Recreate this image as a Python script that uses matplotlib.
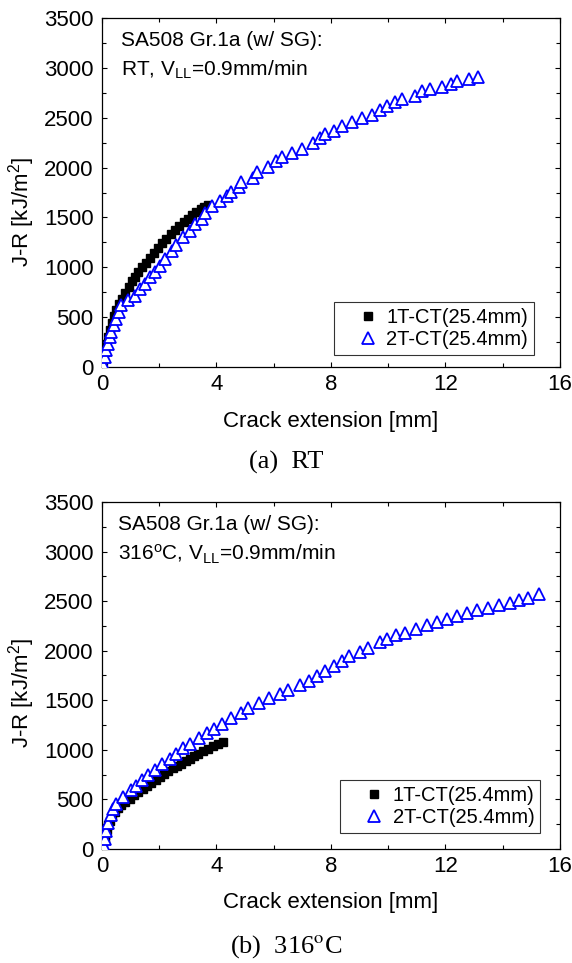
#Curvas J-R de SA508 Gr.1a (w/ SG): 1T-CT vs 2T-CT, a RT y a 316C
import numpy as np
import matplotlib
matplotlib.use("Agg")
import matplotlib.pyplot as plt
from matplotlib.ticker import MultipleLocator

plt.rcParams['font.family'] = ['Liberation Sans', 'DejaVu Sans']
plt.rcParams['mathtext.fontset'] = 'custom'
plt.rcParams['mathtext.rm'] = 'Liberation Sans'
plt.rcParams['mathtext.it'] = 'Liberation Sans:italic'

#(a) RT
rt_1t_da = [0.05, 0.10, 0.15, 0.20, 0.27, 0.34, 0.42, 0.50, 0.60, 0.70, 0.82, 0.93,
            1.05, 1.15, 1.27, 1.40, 1.53, 1.67, 1.80, 1.95, 2.10, 2.25, 2.40, 2.55,
            2.70, 2.85, 3.00, 3.15, 3.30, 3.45, 3.58, 3.71]
rt_1t_j = [60, 150, 230, 300, 370, 440, 510, 570, 630, 680, 740, 800,
           860, 905, 950, 1000, 1045, 1095, 1140, 1190, 1240, 1285, 1330, 1370,
           1410, 1450, 1485, 1520, 1550, 1580, 1605, 1625]
rt_2t_da = [0.04, 0.09, 0.15, 0.21, 0.27, 0.33, 0.41, 0.50, 0.59, 0.68, 0.91, 1.14,
            1.32, 1.49, 1.67, 1.84, 2.02, 2.19, 2.43, 2.60, 2.83, 3.07, 3.24, 3.48,
            3.59, 3.83, 4.12, 4.35, 4.52, 4.79, 4.85, 5.27, 5.40, 5.81, 6.07, 6.30,
            6.64, 6.97, 7.38, 7.60, 7.79, 8.11, 8.37, 8.72, 9.07, 9.45, 9.71, 9.96,
            10.22, 10.47, 10.92, 11.17, 11.47, 11.88, 12.20, 12.39, 12.83, 13.15]
rt_2t_j = [33, 100, 167, 233, 300, 350, 417, 483, 550, 617, 667, 717,
           783, 833, 900, 950, 1017, 1080, 1160, 1225, 1300, 1367, 1430, 1483,
           1545, 1610, 1660, 1710, 1760, 1804, 1854, 1894, 1954, 2004, 2064, 2104,
           2144, 2188, 2244, 2298, 2338, 2371, 2415, 2455, 2498, 2528, 2578, 2622,
           2662, 2689, 2722, 2766, 2789, 2812, 2839, 2872, 2889, 2912]

#(b) 316C
ht_1t_da = [0.05, 0.09, 0.12, 0.16, 0.21, 0.27, 0.35, 0.44, 0.55, 0.68, 0.82, 0.97,
            1.12, 1.27, 1.42, 1.57, 1.72, 1.87, 2.02, 2.17, 2.32, 2.47, 2.62, 2.77,
            2.92, 3.07, 3.22, 3.37, 3.53, 3.70, 3.88, 4.05, 4.22]
ht_1t_j = [40, 90, 140, 190, 240, 280, 330, 370, 410, 440, 470, 505,
           545, 575, 610, 640, 665, 695, 730, 760, 790, 815, 840, 860,
           885, 910, 935, 960, 985, 1010, 1035, 1060, 1080]
ht_2t_da = [0.06, 0.10, 0.15, 0.22, 0.30, 0.38, 0.50, 0.74, 1.00, 1.20, 1.40, 1.62,
            1.85, 2.10, 2.36, 2.58, 2.83, 3.07, 3.38, 3.68, 3.93, 4.21, 4.51, 4.85,
            5.11, 5.49, 5.85, 6.23, 6.51, 6.90, 7.22, 7.51, 7.79, 8.11, 8.40, 8.62,
            9.00, 9.30, 9.71, 9.94, 10.28, 10.57, 10.96, 11.37, 11.69, 12.07, 12.39, 12.75,
            13.09, 13.47, 13.86, 14.24, 14.56, 14.88, 15.26]
ht_2t_j = [34, 100, 180, 260, 340, 400, 450, 520, 590, 640, 700, 750,
           800, 860, 910, 960, 1015, 1060, 1115, 1170, 1215, 1265, 1317, 1367,
           1418, 1471, 1518, 1562, 1606, 1653, 1696, 1747, 1797, 1847, 1898, 1942,
           1989, 2032, 2083, 2123, 2157, 2183, 2217, 2261, 2291, 2318, 2351, 2385,
           2412, 2435, 2459, 2486, 2513, 2536, 2570]

etiquetas = ['1T-CT(25.4mm)', '2T-CT(25.4mm)']
notas = ['SA508 Gr.1a (w/ SG):\nRT, V$_{\\rm LL}$=0.9mm/min',
         'SA508 Gr.1a (w/ SG):\n316$^{\\rm o}$C, V$_{\\rm LL}$=0.9mm/min']
titulos = ['(a)  RT', '(b)  316$^{\\rm o}$C']

fig = plt.figure(figsize=(5.72, 9.63), dpi=100)
ax_a = fig.add_axes([0.1783, 0.6189, 0.8007, 0.3624])
ax_b = fig.add_axes([0.1783, 0.1184, 0.8007, 0.3603])

datos = [(ax_a, rt_1t_da, rt_1t_j, rt_2t_da, rt_2t_j),
         (ax_b, ht_1t_da, ht_1t_j, ht_2t_da, ht_2t_j)]
# posiciones finas por panel (texto, legenda, etiqueta y)
nota_x = [0.041, 0.036]
leg_anchor = [(0.943, 0.034), (0.957, 0.046)]
ylab_y = [0.444, 0.449]

for i, (ax, x1, y1, x2, y2) in enumerate(datos):
    ax.plot(x1, y1, 's', color='black', markersize=6.3, label=etiquetas[0], zorder=2)
    ax.plot(x2, y2, '^', color='blue', markerfacecolor='white', markeredgecolor='blue',
            markersize=8, markeredgewidth=1.3, label=etiquetas[1], zorder=3)
    ax.set_xlim(0, 16)
    ax.set_ylim(0, 3500)
    ax.xaxis.set_major_locator(MultipleLocator(4))
    ax.xaxis.set_minor_locator(MultipleLocator(2))
    ax.yaxis.set_major_locator(MultipleLocator(500))
    ax.yaxis.set_minor_locator(MultipleLocator(250))
    ax.tick_params(which='both', direction='in', top=True, right=True, labelsize=16, width=0.8)
    ax.tick_params(axis='y', pad=6)
    ax.tick_params(axis='x', pad=5)
    ax.tick_params(which='major', length=3.8)
    ax.tick_params(which='minor', length=2.8)
    for s in ax.spines.values():
        s.set_linewidth(0.9)
    ax.set_xlabel('Crack extension [mm]', fontsize=16)
    ax.xaxis.set_label_coords(0.5, -0.125)
    ax.set_ylabel('J-R [kJ/m$^{2}$]', fontsize=16)
    ax.yaxis.set_label_coords(-0.141, ylab_y[i])
    ax.text(nota_x[i], 0.962, notas[i], transform=ax.transAxes, fontsize=15, va='top',
            ha='left', linespacing=1.5)
    leg = ax.legend(loc='lower right', bbox_to_anchor=leg_anchor[i], borderaxespad=0,
                    fontsize=14.5, frameon=True, fancybox=False, edgecolor='black',
                    handlelength=2.8, handletextpad=-0.5, borderpad=0.3, labelspacing=0.15)
    leg.get_frame().set_linewidth(0.8)

fig.text(0.5, 1 - 462 / 963, titulos[0], ha='center', va='center', fontsize=19,
         family='Liberation Serif', math_fontfamily='stix')
fig.text(0.5, 1 - 947 / 963, titulos[1], ha='center', va='center', fontsize=19,
         family='Liberation Serif', math_fontfamily='stix')

fig.savefig('out.png', dpi=100)
